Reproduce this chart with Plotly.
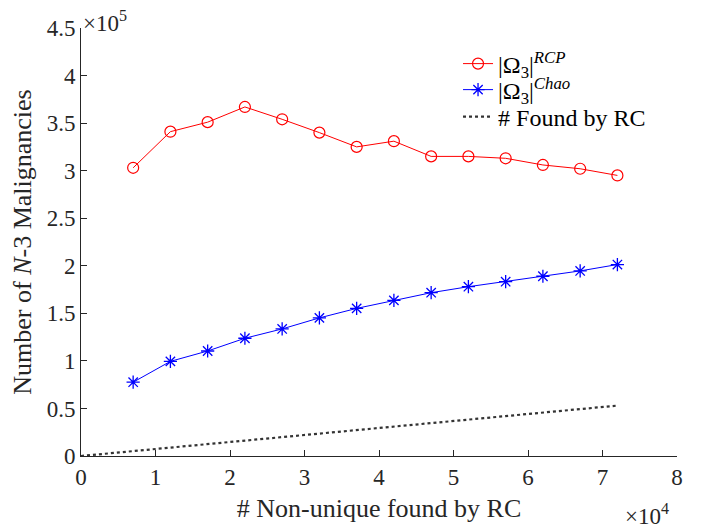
import plotly.graph_objects as go

x_vals = [7000, 12000, 17000, 22000, 27000, 32000, 37000, 42000, 47000, 52000, 57000, 62000, 67000, 72000]
rcp_vals = [303000, 341000, 351000, 367000, 354000, 340000, 325000, 331000, 315000, 315000, 313000, 306000, 302000, 295000]
chao_vals = [77600, 99500, 110400, 123800, 133600, 145200, 155200, 163600, 171700, 178000, 183300, 189000, 194600, 201300]
rc_x = [0, 72000]
rc_vals = [0, 53000]

x_ticks = [0, 10000, 20000, 30000, 40000, 50000, 60000, 70000, 80000]
x_ticktext = ["0", "1", "2", "3", "4", "5", "6", "7", "8"]
y_ticks = [0, 50000, 100000, 150000, 200000, 250000, 300000, 350000, 400000, 450000]
y_ticktext = ["0", "0.5", "1", "1.5", "2", "2.5", "3", "3.5", "4", "4.5"]

FONT = "Liberation Serif, Times New Roman, serif"
AX = "#262626"
FS = 23
FT = 26
FL = 24

fig = go.Figure()
fig.add_trace(go.Scatter(
    x=x_vals, y=rcp_vals, mode="lines+markers",
    name="|Ω<sub>3</sub>|<sup><i>RCP</i></sup>", legend="legend",
    line=dict(color="rgb(255,0,0)", width=1),
    marker=dict(symbol="circle-open", size=11, color="rgb(255,0,0)", line=dict(width=1.2)),
))
fig.add_trace(go.Scatter(
    x=x_vals, y=chao_vals, mode="lines+markers",
    name="|Ω<sub>3</sub>|<sup><i>Chao</i></sup>", legend="legend2",
    line=dict(color="rgb(0,0,255)", width=1),
    marker=dict(symbol="asterisk-open", size=11, color="rgb(0,0,255)", line=dict(width=1.3, color="rgb(0,0,255)")),
))
fig.add_trace(go.Scatter(
    x=rc_x, y=rc_vals, mode="lines",
    name="# Found by RC", legend="legend3",
    line=dict(color="#333333", width=2.2, dash="dot"),
))

def leg(y):
    return dict(x=0.6326, y=y, xanchor="left", yanchor="middle",
                bgcolor="rgba(0,0,0,0)", borderwidth=0,
                font=dict(family=FONT, size=FL, color="#000000"))

# page body has an 8px margin: margins chosen so the plot area lands where the reference has it
fig.update_layout(
    width=701, height=529,
    margin=dict(l=73, r=32, t=20, b=81),
    paper_bgcolor="white", plot_bgcolor="white",
    font=dict(family=FONT, size=FS, color=AX),
    showlegend=True,
    legend=leg(0.9159),
    legend2=leg(0.8551),
    legend3=leg(0.7920),
    xaxis=dict(range=[0, 80000], tickvals=x_ticks, ticktext=x_ticktext, automargin=False,
               showline=True, linecolor=AX, linewidth=1, mirror=False,
               ticks="inside", ticklen=6, tickcolor=AX, showgrid=False, zeroline=False,
               tickfont=dict(family=FONT, size=FS, color=AX),
               title=dict(text="# Non-unique found by RC", font=dict(family=FONT, size=FT, color=AX), standoff=10)),
    yaxis=dict(range=[0, 450000], tickvals=y_ticks, ticktext=y_ticktext, automargin=False,
               showline=True, linecolor=AX, linewidth=1, mirror=False,
               ticks="inside", ticklen=6, tickcolor=AX, showgrid=False, zeroline=False,
               tickfont=dict(family=FONT, size=FS, color=AX),
               title=dict(text="Number of <i>N</i>-3 Malignancies", font=dict(family=FONT, size=FT, color=AX), standoff=10)),
)

fig.add_annotation(xref="paper", yref="paper", x=0.0, y=1.0, xanchor="left", yanchor="bottom",
                   text="×10<sup>5</sup>", showarrow=False, font=dict(family=FONT, size=FS, color=AX), yshift=-10)
fig.add_annotation(xref="paper", yref="paper", x=1.0, y=0.0, xanchor="right", yanchor="middle",
                   text="×10<sup>4</sup>", showarrow=False, font=dict(family=FONT, size=FS, color=AX), yshift=-58, xshift=-6)

fig.write_html("out.html")
